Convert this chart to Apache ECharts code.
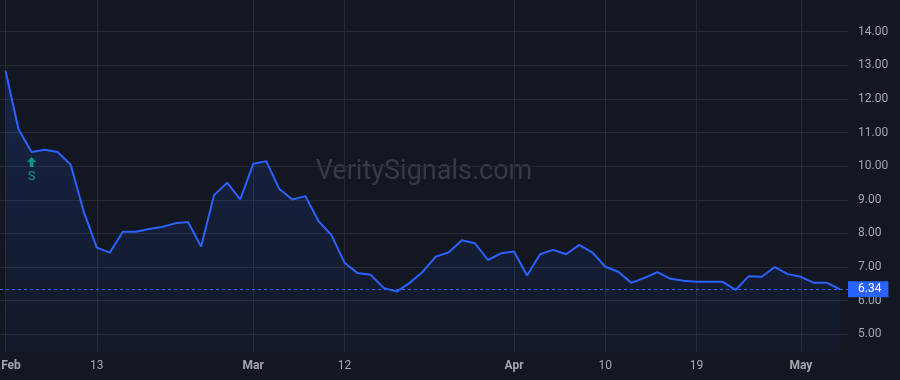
<!DOCTYPE html>
<html>
<head>
<meta charset="utf-8">
<style>
  html, body { margin: 0; padding: 0; background: #131722; }
  #chart { width: 900px; height: 380px; }
</style>
<script src="https://cdn.jsdelivr.net/npm/echarts@6/dist/echarts.min.js"></script>
</head>
<body>
<div id="chart"></div>
<script>
// Trading days (categories)
const dates = [
  '2024-02-02','2024-02-05','2024-02-06','2024-02-07','2024-02-08','2024-02-09',
  '2024-02-12','2024-02-13','2024-02-14','2024-02-15','2024-02-16',
  '2024-02-20','2024-02-21','2024-02-22','2024-02-23',
  '2024-02-26','2024-02-27','2024-02-28','2024-02-29',
  '2024-03-01','2024-03-04','2024-03-05','2024-03-06','2024-03-07','2024-03-08',
  '2024-03-11','2024-03-12','2024-03-13','2024-03-14','2024-03-15',
  '2024-03-18','2024-03-19','2024-03-20','2024-03-21','2024-03-22',
  '2024-03-25','2024-03-26','2024-03-27','2024-03-28',
  '2024-04-01','2024-04-02','2024-04-03','2024-04-04','2024-04-05',
  '2024-04-08','2024-04-09','2024-04-10','2024-04-11','2024-04-12',
  '2024-04-15','2024-04-16','2024-04-17','2024-04-18','2024-04-19',
  '2024-04-22','2024-04-23','2024-04-24','2024-04-25','2024-04-26',
  '2024-04-29','2024-04-30','2024-05-01','2024-05-02','2024-05-03','2024-05-06'
];

// Closing values
const values = [
  12.84, 11.10, 10.42, 10.49, 10.42, 10.04,
  8.65, 7.58, 7.43, 8.05, 8.05,
  8.13, 8.19, 8.30, 8.34,
  7.61, 9.14, 9.51, 9.01,
  10.07, 10.15, 9.32, 9.01, 9.11, 8.37,
  7.95, 7.13, 6.82, 6.77, 6.38,
  6.27, 6.53, 6.86, 7.31, 7.44,
  7.80, 7.71, 7.21, 7.41,
  7.46, 6.75, 7.38, 7.51, 7.38,
  7.66, 7.44, 7.01, 6.86, 6.53,
  6.68, 6.85, 6.65, 6.59, 6.56,
  6.56, 6.56, 6.32, 6.73, 6.71,
  7.00, 6.79, 6.71, 6.53, 6.53, 6.34
];

// X tick labels
const tickDates  = ['2024-02-02','2024-02-13','2024-03-01','2024-03-12','2024-04-01','2024-04-10','2024-04-19','2024-05-01'];
const tickLabels = ['Feb','13','Mar','12','Apr','10','19','May'];

// Signals
const signalDates  = ['2024-02-06'];
const signalLabels = ['S'];

// Axis range
const yMin = 4.483;
const yMax = 14.942;

const lastValue = values[values.length - 1];
const textColor = '#a3a6af';
const gridColor = '#262a35';
const lineColor = '#2962ff';
const FONT = 'Roboto, "Liberation Sans", sans-serif';

const chart = echarts.init(document.getElementById('chart'), null, { renderer: 'canvas' });

const option = {
  backgroundColor: '#131722',
  animation: false,
  textStyle: { fontFamily: FONT },
  graphic: [{
    type: 'text',
    x: 424, y: 172,
    silent: true,
    z: 0,
    style: {
      text: 'VeritySignals.com',
      fontSize: 27,
      fontFamily: FONT,
      fill: '#363a46',
      align: 'center',
      verticalAlign: 'middle'
    }
  }],
  grid: [
    { left: 0, top: 0, width: 848, height: 351.7, outerBoundsMode: 'none', containLabel: false },
    { left: 5.5, top: 0, width: 834.5, height: 351.7, outerBoundsMode: 'none', containLabel: false }
  ],
  xAxis: [
    { type: 'value', gridIndex: 0, min: 0, max: 1, show: false },
    {
      type: 'category',
      gridIndex: 1,
      data: dates,
      boundaryGap: false,
      axisLine: { show: false },
      axisTick: { show: false },
      splitLine: {
        show: true,
        interval: (i, v) => tickDates.includes(dates[i]),
        lineStyle: { color: gridColor, width: 1 }
      },
      axisLabel: {
        interval: (i, v) => tickDates.includes(dates[i]),
        margin: 8,
        fontSize: 12,
        color: textColor,
        formatter: (value, index) => {
          const k = tickDates.indexOf(value);
          if (k < 0) return '';
          const t = tickLabels[k];
          const isMonth = isNaN(Number(t));
          if (k === 0) return '{mf|' + t + '}';
          return isMonth ? '{m|' + t + '}' : '{d|' + t + '}';
        },
        rich: {
          m:  { fontWeight: 'bold', fontSize: 12, color: textColor, fontFamily: FONT },
          mf: { fontWeight: 'bold', fontSize: 12, color: textColor, fontFamily: FONT, padding: [0, 0, 0, 11] },
          d:  { fontSize: 12, color: textColor, fontFamily: FONT }
        }
      }
    }
  ],
  yAxis: [
    {
      type: 'value',
      gridIndex: 0,
      position: 'right',
      min: yMin,
      max: yMax,
      splitNumber: 10,
      axisLine: { show: false },
      axisTick: { show: false },
      splitLine: {
        show: true,
        showMinLine: false,
        showMaxLine: false,
        lineStyle: { color: gridColor, width: 1 }
      },
      axisLabel: {
        margin: 10,
        fontSize: 12,
        color: textColor,
        showMinLabel: false,
        showMaxLabel: false,
        formatter: (v) => v.toFixed(2)
      }
    },
    {
      type: 'value',
      gridIndex: 1,
      min: yMin,
      max: yMax,
      show: false,
      splitLine: { show: false }
    }
  ],
  series: [
    {
      type: 'line',
      xAxisIndex: 0,
      yAxisIndex: 0,
      data: [],
      silent: true,
      markLine: {
        silent: true,
        symbol: ['none', 'none'],
        animation: false,
        lineStyle: { color: lineColor, type: [3, 3], width: 1 },
        label: {
          show: true,
          position: 'end',
          distance: 0,
          formatter: () => lastValue.toFixed(2),
          color: '#ffffff',
          fontSize: 12,
          lineHeight: 12,
          fontFamily: FONT,
          backgroundColor: lineColor,
          padding: [2, 7, 2, 10]
        },
        data: [{ yAxis: lastValue }]
      }
    },
    {
      type: 'line',
      xAxisIndex: 1,
      yAxisIndex: 1,
      data: values,
      symbol: 'none',
      smooth: false,
      z: 3,
      lineStyle: { color: lineColor, width: 2 },
      areaStyle: {
        origin: 'start',
        color: new echarts.graphic.LinearGradient(0, 0, 0, 1, [
          { offset: 0, color: 'rgba(41,98,255,0.24)' },
          { offset: 1, color: 'rgba(41,98,255,0.05)' }
        ])
      },
      markPoint: {
        silent: true,
        symbol: 'path://M5,0 L10,5 L7,5 L7,10 L3,10 L3,5 L0,5 Z',
        symbolSize: [9, 10],
        symbolOffset: [0, 10],
        itemStyle: { color: '#089981' },
        label: {
          show: true,
          position: 'bottom',
          distance: 3,
          color: '#089981',
          fontSize: 13,
          fontFamily: FONT
        },
        data: signalDates.map((d, i) => ({
          coord: [d, values[dates.indexOf(d)]],
          label: { formatter: signalLabels[i] }
        }))
      }
    }
  ]
};

chart.setOption(option);
</script>
</body>
</html>
